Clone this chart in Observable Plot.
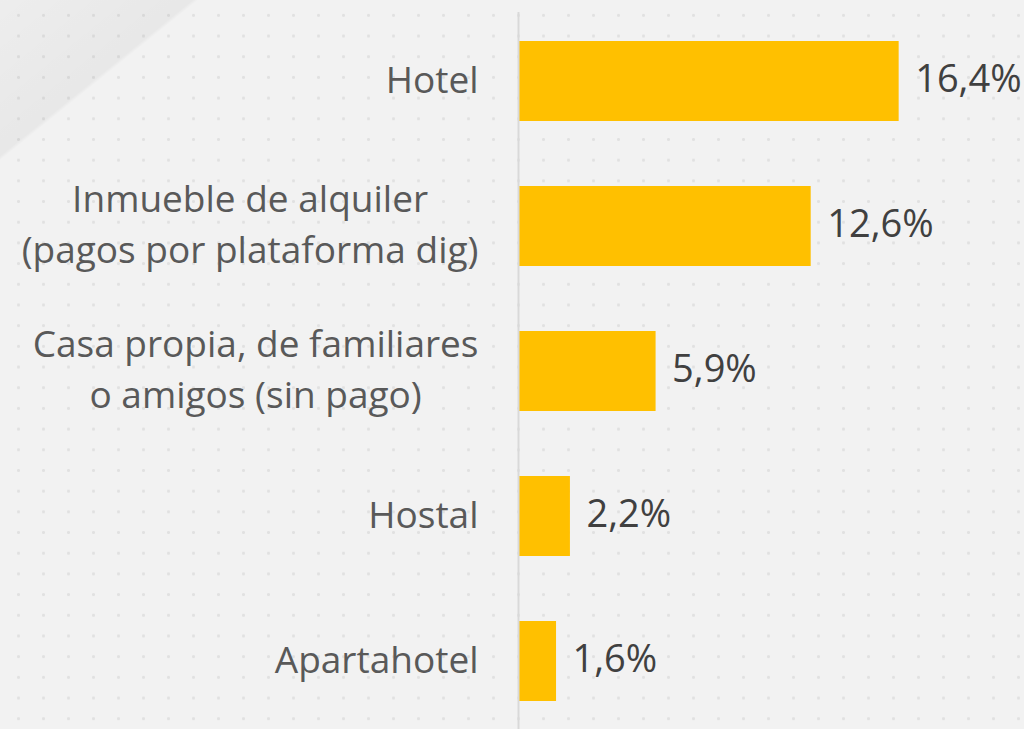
<!DOCTYPE html>
<html>
<head>
<meta charset="utf-8">
<script src="https://cdn.jsdelivr.net/npm/d3@7"></script>
<script src="https://cdn.jsdelivr.net/npm/@observablehq/plot@0.6"></script>
<style>
  html, body { margin: 0; padding: 0; }
  body {
    width: 1024px; height: 729px; overflow: hidden;
    background-color: #f2f2f2;
    background-image:
      linear-gradient(141deg, rgba(0,0,0,0.02) 0%, rgba(0,0,0,0.045) 10%, rgba(0,0,0,0) 10.3%),
      radial-gradient(circle, rgba(0,0,0,0.07) 1.2px, rgba(0,0,0,0) 1.8px);
    background-size: 100% 100%, 25px 20.7px;
    background-position: 0 0, 6px 5px;
    background-repeat: no-repeat, repeat;
  }
  #chart svg { display: block; background: transparent; }
</style>
</head>
<body>
<div id="chart"></div>
<script>
const categories = [
  "Hotel",
  "Inmueble de alquiler\n(pagos por plataforma dig)",
  "Casa propia, de familiares\no amigos (sin pago)",
  "Hostal",
  "Apartahotel"
];
const values = [16.4, 12.6, 5.9, 2.2, 1.6];
const valueLabels = ["16,4%", "12,6%", "5,9%", "2,2%", "1,6%"];

const data = categories.map((c, i) => ({cat: c, value: values[i], label: valueLabels[i]}));

const FONT = "'Open Sans', sans-serif";

const chart = Plot.plot({
  width: 1024,
  height: 729,
  marginLeft: 519,
  marginRight: 42,
  marginTop: 12,
  marginBottom: 0,
  style: {background: "transparent", fontFamily: FONT},
  x: {domain: [0, 20], axis: null},
  y: {domain: categories, paddingInner: 0.45, paddingOuter: 0.193, axis: null},
  marks: [
    Plot.barX(data, {x: "value", y: "cat", fill: "#ffc000"}),
    Plot.ruleX([0], {stroke: "#d9d9d9", strokeWidth: 2, dx: -1}),
    Plot.text(data, {
      x: "value", y: "cat", text: "label",
      textAnchor: "start", dx: 16, dy: -2,
      fontSize: 38, fill: "#404040", fontFamily: FONT
    }),
    Plot.text(data, {
      x: 0, y: "cat", text: "cat",
      textAnchor: "middle", dx: -41, dy: -5,
      lineHeight: 1.36,
      fontSize: 37, fill: "#595959", fontFamily: FONT,
      className: "cat-labels"
    })
  ]
});

document.getElementById("chart").appendChild(chart);

// center multi-line labels within a block whose right edge sits at the anchor
d3.select(chart).selectAll(".cat-labels text").each(function() {
  const bb = this.getBBox();
  const t = this.getAttribute("transform") || "";
  this.setAttribute("transform", t + ` translate(${-bb.width / 2},0)`);
});
</script>
</body>
</html>
